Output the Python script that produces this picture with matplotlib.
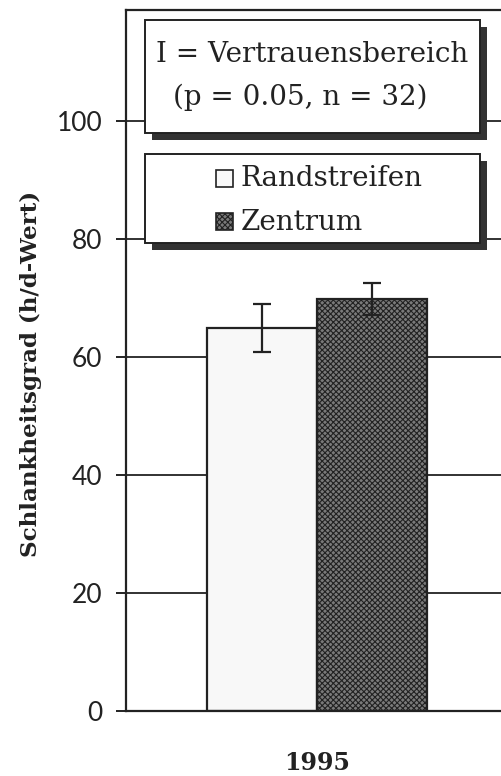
import matplotlib
matplotlib.use("Agg")
import matplotlib.pyplot as plt
from matplotlib.patches import Rectangle

# ---- data ----
categories = ["1995"]
series_names = ["Randstreifen", "Zentrum"]
values = [64.9, 69.8]
ci = [4.1, 2.7]
yticks = [0, 20, 40, 60, 80, 100]
ylabel = "Schlankheitsgrad (h/d-Wert)"
note_lines = ["I = Vertrauensbereich", "(p = 0.05, n = 32)"]

plt.rcParams["hatch.color"] = "#555555"
plt.rcParams["hatch.linewidth"] = 0.8

W, H = 502, 776
fig = plt.figure(figsize=(W / 100, H / 100), dpi=100)

def fx(px):
    return px / W

def fy(py):
    return 1 - py / H

ax_left, ax_right, ax_top, ax_bot = 126, 508, 10, 711
ax = fig.add_axes([fx(ax_left), fy(ax_bot), fx(ax_right - ax_left), (ax_bot - ax_top) / H])
ax.set_ylim(0, 118.8)
ax.set_xlim(-1, 1)

serif = ["DejaVu Serif"]
sans = ["Lato", "DejaVu Sans"]

# gridlines
for t in yticks[1:]:
    ax.axhline(t, color="#222222", lw=1.3, zorder=0)

bw = 0.576
offs = [-bw / 2, bw / 2]
faces = ["#f8f8f8", "#7a7a7a"]
hatches = [None, "xxxxxx"]
for i, name in enumerate(series_names):
    ax.bar(offs[i], values[i], width=bw, color=faces[i], edgecolor="#222222",
           linewidth=1.6, hatch=hatches[i], zorder=2, label=name)
    ax.errorbar(offs[i], values[i], yerr=ci[i], color="#222222", capsize=6.5,
                elinewidth=1.6, capthick=1.6, zorder=3, fmt="none")

ax.spines["right"].set_visible(False)
for s in ["left", "top", "bottom"]:
    ax.spines[s].set_linewidth(1.6)
    ax.spines[s].set_color("#222222")

ax.set_yticks(yticks)
ax.set_yticklabels([str(t) for t in yticks], family=sans, fontsize=19, color="#222222")
ax.tick_params(axis="y", length=7, width=1.4, pad=10, color="#222222")
ax.set_xticks([0])
ax.set_xticklabels(categories, family=serif, fontsize=17, fontweight="bold", color="#222222")
ax.tick_params(axis="x", length=0, pad=29)

fig.text(fx(31), fy(374), ylabel, rotation=90, ha="center", va="center",
         family=serif, fontsize=16.6, fontweight="bold", color="#222222")

# boxes with shadow
def shadow_box(x0, y0, x1, y1, off=7):
    sh = Rectangle((fx(x0 + off), fy(y1 + off)), fx(x1 - x0), (y1 - y0) / H,
                   transform=fig.transFigure, facecolor="#333333", edgecolor="none", zorder=5)
    bx = Rectangle((fx(x0), fy(y1)), fx(x1 - x0), (y1 - y0) / H,
                   transform=fig.transFigure, facecolor="white", edgecolor="#222222",
                   lw=1.4, zorder=6)
    fig.add_artist(sh)
    fig.add_artist(bx)

shadow_box(145, 20, 480, 133)
shadow_box(145, 154, 480, 243)

fig.text(fx(312), fy(55), note_lines[0], ha="center", va="center", family=serif,
         fontsize=20, color="#222222", zorder=7)
fig.text(fx(300), fy(97), note_lines[1], ha="center", va="center", family=serif,
         fontsize=20, color="#222222", zorder=7)

# legend entries
ly = [179, 222]
for i, name in enumerate(series_names):
    sq = Rectangle((fx(216), fy(ly[i] + 8)), fx(17), 17 / H, transform=fig.transFigure,
                   facecolor=faces[i], edgecolor="#222222", lw=1.2, hatch=hatches[i], zorder=7)
    fig.add_artist(sq)
    fig.text(fx(241), fy(ly[i]), name, ha="left", va="center", family=serif,
             fontsize=20, color="#222222", zorder=7)

fig.savefig("out.png", dpi=100)
